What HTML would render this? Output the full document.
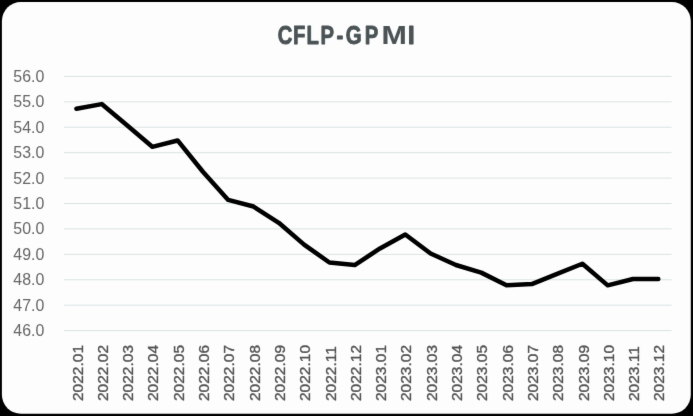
<!DOCTYPE html>
<html><head><meta charset="utf-8"><style>
html,body{margin:0;padding:0;background:#000;width:693px;height:416px;overflow:hidden}
svg{display:block}
svg text{font-family:"Liberation Sans", sans-serif}
</style></head><body>
<svg width="693" height="416" viewBox="0 0 693 416">
<defs><filter id="bl" color-interpolation-filters="sRGB" x="-1%" y="-1%" width="102%" height="102%"><feConvolveMatrix order="3" kernelMatrix="0.00524 0.06192 0.00524 0.06192 0.73137 0.06192 0.00524 0.06192 0.00524" divisor="1" edgeMode="duplicate" preserveAlpha="true"/></filter></defs>
<g filter="url(#bl)">
<rect x="0" y="0" width="693" height="416" fill="#000"/>
<rect x="1.9" y="2.0" width="688.9" height="411.8" rx="19" ry="19" fill="#fdfdfd"/>
<g stroke="#d9e3e3" stroke-width="1" fill="none">
<line x1="63.8" x2="671.6" y1="76.40" y2="76.40"/>
<line x1="63.8" x2="671.6" y1="101.82" y2="101.82"/>
<line x1="63.8" x2="671.6" y1="127.24" y2="127.24"/>
<line x1="63.8" x2="671.6" y1="152.66" y2="152.66"/>
<line x1="63.8" x2="671.6" y1="178.08" y2="178.08"/>
<line x1="63.8" x2="671.6" y1="203.50" y2="203.50"/>
<line x1="63.8" x2="671.6" y1="228.92" y2="228.92"/>
<line x1="63.8" x2="671.6" y1="254.34" y2="254.34"/>
<line x1="63.8" x2="671.6" y1="279.76" y2="279.76"/>
<line x1="63.8" x2="671.6" y1="305.18" y2="305.18"/>
<line x1="63.8" x2="671.6" y1="330.60" y2="330.60"/>
</g>
<g font-family="Liberation Sans, sans-serif" font-size="15.6" fill="#666666" text-anchor="end">
<text transform="translate(44.3,81.90) scale(1.02,1.0)">56.0</text>
<text transform="translate(44.3,107.32) scale(1.02,1.0)">55.0</text>
<text transform="translate(44.3,132.74) scale(1.02,1.0)">54.0</text>
<text transform="translate(44.3,158.16) scale(1.02,1.0)">53.0</text>
<text transform="translate(44.3,183.58) scale(1.02,1.0)">52.0</text>
<text transform="translate(44.3,209.00) scale(1.02,1.0)">51.0</text>
<text transform="translate(44.3,234.42) scale(1.02,1.0)">50.0</text>
<text transform="translate(44.3,259.84) scale(1.02,1.0)">49.0</text>
<text transform="translate(44.3,285.26) scale(1.02,1.0)">48.0</text>
<text transform="translate(44.3,310.68) scale(1.02,1.0)">47.0</text>
<text transform="translate(44.3,336.10) scale(1.02,1.0)">46.0</text>
</g>
<g font-family="Liberation Sans, sans-serif" font-size="15.5" fill="#525252" stroke="#525252" stroke-width="0.35" text-anchor="start">
<text transform="translate(82.55,401.0) rotate(-90)">2022.01</text>
<text transform="translate(107.85,401.0) rotate(-90)">2022.02</text>
<text transform="translate(133.15,401.0) rotate(-90)">2022.03</text>
<text transform="translate(158.45,401.0) rotate(-90)">2022.04</text>
<text transform="translate(183.75,401.0) rotate(-90)">2022.05</text>
<text transform="translate(209.05,401.0) rotate(-90)">2022.06</text>
<text transform="translate(234.35,401.0) rotate(-90)">2022.07</text>
<text transform="translate(259.65,401.0) rotate(-90)">2022.08</text>
<text transform="translate(284.95,401.0) rotate(-90)">2022.09</text>
<text transform="translate(310.25,401.0) rotate(-90)">2022.10</text>
<text transform="translate(335.55,401.0) rotate(-90)">2022.11</text>
<text transform="translate(360.85,401.0) rotate(-90)">2022.12</text>
<text transform="translate(386.15,401.0) rotate(-90)">2023.01</text>
<text transform="translate(411.45,401.0) rotate(-90)">2023.02</text>
<text transform="translate(436.75,401.0) rotate(-90)">2023.03</text>
<text transform="translate(462.05,401.0) rotate(-90)">2023.04</text>
<text transform="translate(487.35,401.0) rotate(-90)">2023.05</text>
<text transform="translate(512.65,401.0) rotate(-90)">2023.06</text>
<text transform="translate(537.95,401.0) rotate(-90)">2023.07</text>
<text transform="translate(563.25,401.0) rotate(-90)">2023.08</text>
<text transform="translate(588.55,401.0) rotate(-90)">2023.09</text>
<text transform="translate(613.85,401.0) rotate(-90)">2023.10</text>
<text transform="translate(639.15,401.0) rotate(-90)">2023.11</text>
<text transform="translate(664.45,401.0) rotate(-90)">2023.12</text>
</g>
<g font-family="Liberation Sans, sans-serif" font-weight="bold" font-size="25.291" fill="#4b5356" stroke="#4b5356" stroke-width="0.90" stroke-linejoin="round">
<text transform="translate(277.66,43.75) scale(0.800,1)">C</text>
<text transform="translate(293.01,43.75) scale(0.800,1)">F</text>
<text transform="translate(306.56,43.75) scale(0.800,1)">L</text>
<text transform="translate(320.47,43.75) scale(0.800,1)">P</text>
<text transform="translate(336.59,43.75) scale(0.800,1)">-</text>
<text transform="translate(345.83,43.75) scale(0.807,1)">G</text>
<text transform="translate(364.72,43.75) scale(0.800,1)">P</text>
<text transform="translate(381.46,43.75) scale(1.204,1)" stroke-width="0.1">M</text>
<text transform="translate(407.69,43.75) scale(1.000,1)">I</text>
</g>
<polyline points="76.40,108.68 101.70,104.10 127.00,125.20 152.30,146.81 177.60,140.45 202.90,171.72 228.20,199.93 253.50,206.54 278.80,222.81 304.10,244.67 329.40,262.47 354.70,265.01 380.00,248.49 405.30,234.50 430.60,253.57 455.90,265.01 481.20,272.63 506.50,285.34 531.80,284.07 557.10,273.91 582.40,263.74 607.70,285.34 633.00,278.99 658.30,278.99" fill="none" stroke="#000" stroke-width="4.5" stroke-linejoin="round" stroke-linecap="round"/>
</g>
</svg>
</body></html>
